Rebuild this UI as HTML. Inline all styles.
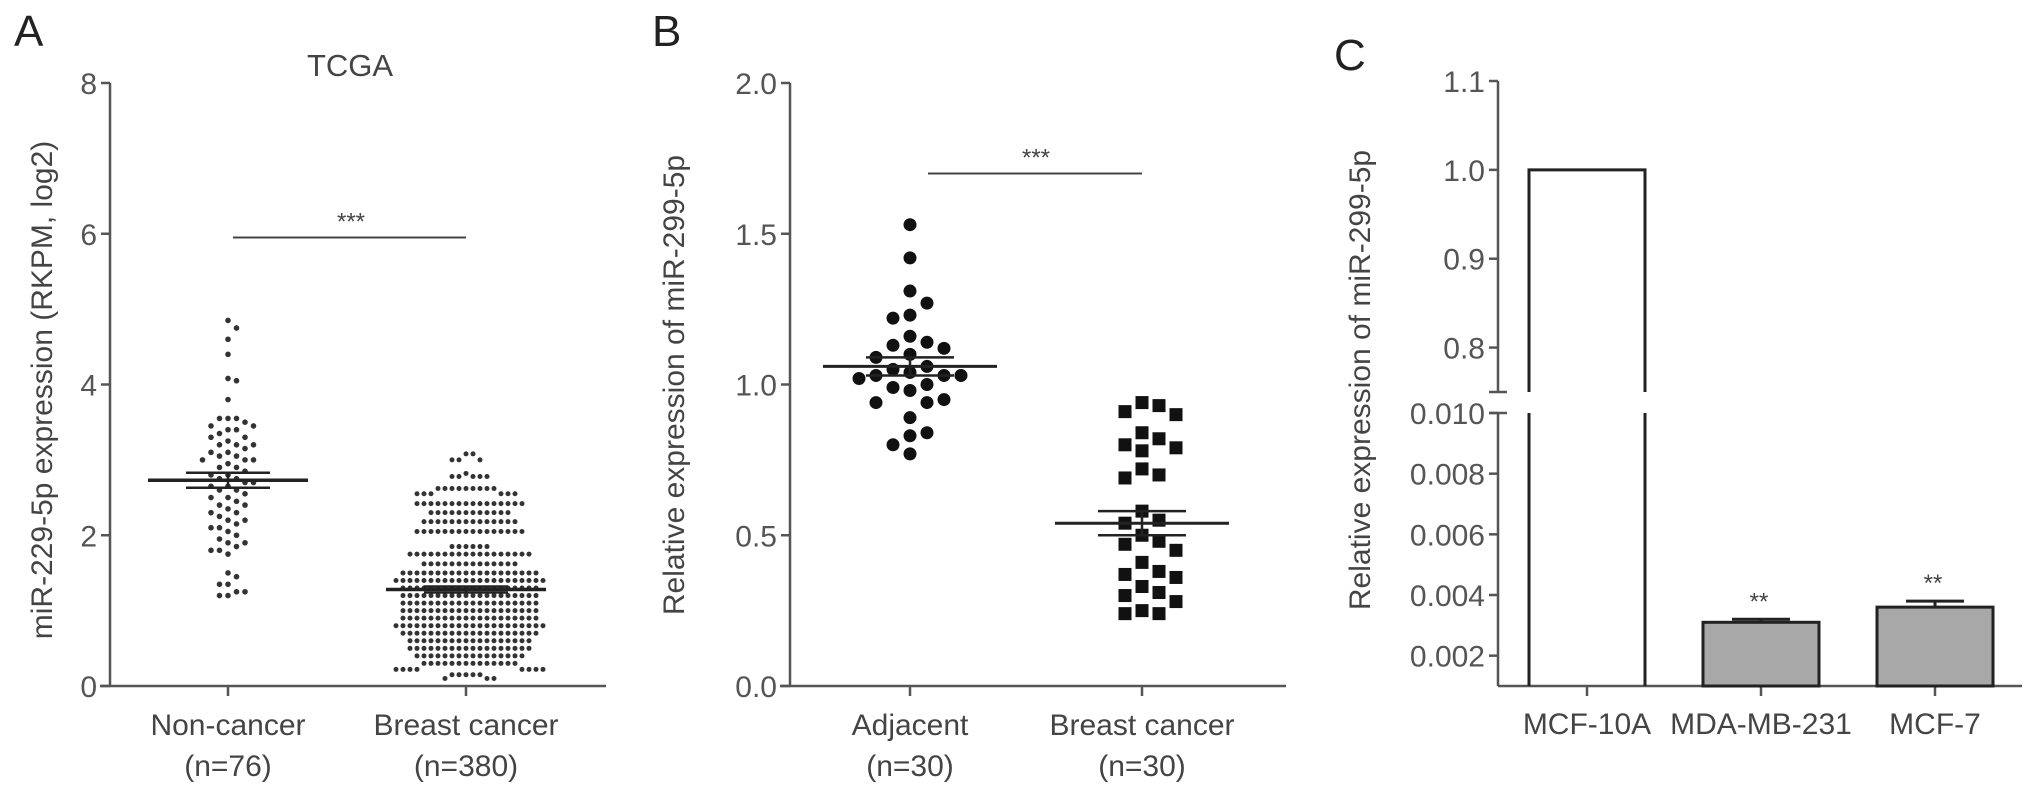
<!DOCTYPE html>
<html><head><meta charset="utf-8"><style>
html,body{margin:0;padding:0;background:#fff;}
svg{display:block;font-family:"Liberation Sans",Arial,sans-serif;}
</style></head><body>
<svg id="fig" width="2032" height="796" viewBox="0 0 2032 796" xmlns="http://www.w3.org/2000/svg"></svg>
<script>
// ---------- Panel A data ----------
const aCategories = ["Non-cancer", "Breast cancer"];
const aCounts = ["(n=76)", "(n=380)"];
const aTicks = [0, 2, 4, 6, 8];
const aNonCancer = [4.85,4.75,4.6,4.4,4.08,4.05,3.8,3.55,3.55,3.55,3.5,3.45,3.45,3.4,3.4,3.35,3.3,3.3,3.25,3.2,3.2,3.2,3.15,3.1,3.1,3.05,3.05,3.0,3.0,3.0,2.95,2.9,2.9,2.85,2.8,2.8,2.75,2.75,2.7,2.7,2.65,2.65,2.6,2.6,2.55,2.5,2.5,2.45,2.4,2.4,2.35,2.3,2.3,2.25,2.2,2.2,2.15,2.1,2.1,2.05,2.0,1.95,1.9,1.9,1.85,1.8,1.8,1.75,1.5,1.45,1.35,1.35,1.25,1.25,1.2,1.2];
const aBreastLevels = [3.08,3.0,2.82,2.78,2.62,2.55,2.42,2.3,2.18,2.05,1.85,1.75,1.62,1.5,1.4,1.3,1.2,1.1,1.0,0.9,0.8,0.7,0.6,0.5,0.4,0.3,0.22,0.15,0.1];
const aBreastCounts = [2,3,1,5,9,6,16,12,14,16,6,18,14,20,22,20,20,20,20,20,22,20,18,18,16,14,8,5,3];
const aMean = [2.73, 1.28];
const aSem = [0.10, 0.04];
// ---------- Panel B data ----------
const bCategories = ["Adjacent", "Breast cancer"];
const bCounts = ["(n=30)", "(n=30)"];
const bTicks = [0.0, 0.5, 1.0, 1.5, 2.0];
const bAdjacent = [1.53,1.42,1.31,1.27,1.23,1.22,1.16,1.14,1.13,1.12,1.10,1.09,1.06,1.05,1.04,1.03,1.03,1.03,1.02,1.00,0.99,0.98,0.95,0.94,0.94,0.89,0.84,0.83,0.80,0.77];
const bBreast = [0.94,0.93,0.91,0.90,0.84,0.82,0.80,0.79,0.78,0.72,0.70,0.69,0.58,0.55,0.54,0.50,0.48,0.47,0.45,0.41,0.38,0.37,0.36,0.33,0.31,0.30,0.28,0.25,0.24,0.24];
const bMean = [1.06, 0.54];
const bSem = [0.03, 0.04];
// ---------- Panel C data ----------
const cCategories = ["MCF-10A", "MDA-MB-231", "MCF-7"];
const cValues = [1.0, 0.0031, 0.0036];
const cErrors = [0, 0.0001, 0.0002];
const cStars = ["", "**", "**"];
const cUpperTicks = [0.8, 0.9, 1.0, 1.1];
const cLowerTicks = [0.002, 0.004, 0.006, 0.008, 0.010];
const cLowerTickLabels = ["0.002", "0.004", "0.006", "0.008", "0.010"];

const NS = "http://www.w3.org/2000/svg";
const svg = document.getElementById("fig");
function el(tag, attrs, parent) {
  const e = document.createElementNS(NS, tag);
  for (const k in attrs) e.setAttribute(k, attrs[k]);
  (parent || svg).appendChild(e);
  return e;
}
function txt(s, x, y, size, anchor, fill, parent) {
  const t = el("text", {x: x, y: y, "font-size": size, "text-anchor": anchor || "middle", fill: fill || "#444"}, parent);
  t.textContent = s;
  return t;
}
function group(name) {
  const g = el("g", {});
  
  
  return g;
}
const AX = "#555";

function beeswarm(vals, yfn, cx, d) {
  const sorted = vals.slice().sort((a, b) => b - a);
  const placed = [];
  for (const v of sorted) {
    const y = yfn(v);
    let k = 0, x = cx;
    while (true) {
      const off = k === 0 ? 0 : (k % 2 ? 1 : -1) * Math.ceil(k / 2) * d;
      x = cx + off;
      let ok = true;
      for (const p of placed) {
        const dx = p.x - x, dy = p.y - y;
        if (dx * dx + dy * dy < d * d * 0.98) { ok = false; break; }
      }
      if (ok) break;
      k++;
      if (k > 80) break;
    }
    placed.push({x: x, y: y, v: v});
  }
  return placed;
}

// ================= Panel A =================
(function () {
  const x0 = 110, xEnd = 606, y0 = 686, yTop = 83, vMax = 8;
  const yA = v => y0 - (v / vMax) * (y0 - yTop);
  const catX = [228, 466];
  const g = group("panel-a");
  const lab = txt("A", 14, 46, 44, "start", "#222", g);
  
  
  const title = txt("TCGA", 350, 76, 31, "middle", "#444", g);
  
  
  const yAxis = el("line", {x1: x0, y1: yTop, x2: x0, y2: y0, stroke: AX, "stroke-width": 2.5}, g);
  
  
  const xAxis = el("line", {x1: x0 - 10, y1: y0, x2: xEnd, y2: y0, stroke: AX, "stroke-width": 2.5}, g);
  
  
  aTicks.forEach(t => {
    const y = yA(t);
    const tk = el("line", {x1: x0 - 9, y1: y, x2: x0, y2: y, stroke: AX, "stroke-width": 2.5}, g);
    
    
    const tl = txt(String(t), x0 - 13, y + 11, 30, "end", "#555", g);
    
    
  });
  const yt = txt("miR-229-5p expression (RKPM, log2)", 0, 0, 30, "middle", "#444", g);
  yt.setAttribute("transform", "translate(52,390) rotate(-90)");
  
  
  catX.forEach((cx, i) => {
    const tk = el("line", {x1: cx, y1: y0, x2: cx, y2: y0 + 10, stroke: AX, "stroke-width": 2.5}, g);
    
    
    const l1 = txt(aCategories[i], cx, 735, 30, "middle", "#444", g);
    
    
    const l2 = txt(aCounts[i], cx, 776, 30, "middle", "#444", g);
    
    
  });
  // dots
  const pts1 = beeswarm(aNonCancer, yA, catX[0], 8.5);
  pts1.forEach(p => {
    const c = el("circle", {cx: p.x, cy: p.y, r: 2.8, fill: "#333"}, g);
    
    
  });
  const breastVals = [];
  aBreastLevels.forEach((lv, i) => { for (let k = 0; k < aBreastCounts[i]; k++) breastVals.push(lv); });
  const pts2 = beeswarm(breastVals, yA, catX[1], 7);
  pts2.forEach(p => {
    const c = el("circle", {cx: p.x, cy: p.y, r: 2.5, fill: "#333"}, g);
    
    
  });
  // mean & sem
  catX.forEach((cx, i) => {
    const m = el("line", {x1: cx - 80, y1: yA(aMean[i]), x2: cx + 80, y2: yA(aMean[i]), stroke: "#222", "stroke-width": 3.5}, g);
    
    
    [aMean[i] - aSem[i], aMean[i] + aSem[i]].forEach(v => {
      const s = el("line", {x1: cx - 42, y1: yA(v), x2: cx + 42, y2: yA(v), stroke: "#222", "stroke-width": 2.5}, g);
      
      
    });
    const vl = el("line", {x1: cx, y1: yA(aMean[i] - aSem[i]), x2: cx, y2: yA(aMean[i] + aSem[i]), stroke: "#222", "stroke-width": 2.5}, g);
    
    
  });
  const sig = el("line", {x1: catX[0] + 5, y1: yA(5.95), x2: catX[1], y2: yA(5.95), stroke: "#444", "stroke-width": 2}, g);
  
  
  const st = txt("***", (catX[0] + catX[1]) / 2 + 4, yA(5.95) - 8, 24, "middle", "#444", g);
  
  
})();

// ================= Panel B =================
(function () {
  const x0 = 790, xEnd = 1286, y0 = 686, yTop = 83, vMax = 2;
  const yB = v => y0 - (v / vMax) * (y0 - yTop);
  const catX = [910, 1142];
  const g = group("panel-b");
  const lab = txt("B", 652, 46, 44, "start", "#222", g);
  
  
  const yAxis = el("line", {x1: x0, y1: yTop, x2: x0, y2: y0, stroke: AX, "stroke-width": 2.5}, g);
  
  
  const xAxis = el("line", {x1: x0 - 10, y1: y0, x2: xEnd, y2: y0, stroke: AX, "stroke-width": 2.5}, g);
  
  
  bTicks.forEach(t => {
    const y = yB(t);
    const tk = el("line", {x1: x0 - 9, y1: y, x2: x0, y2: y, stroke: AX, "stroke-width": 2.5}, g);
    
    
    const tl = txt(t.toFixed(1), x0 - 13, y + 11, 30, "end", "#555", g);
    
    
  });
  const yt = txt("Relative expression of miR-299-5p", 0, 0, 30, "middle", "#444", g);
  yt.setAttribute("transform", "translate(684,385) rotate(-90)");
  
  
  catX.forEach((cx, i) => {
    const tk = el("line", {x1: cx, y1: y0, x2: cx, y2: y0 + 10, stroke: AX, "stroke-width": 2.5}, g);
    
    
    const l1 = txt(bCategories[i], cx, 735, 30, "middle", "#444", g);
    
    
    const l2 = txt(bCounts[i], cx, 776, 30, "middle", "#444", g);
    
    
  });
  beeswarm(bAdjacent, yB, catX[0], 17).forEach(p => {
    const c = el("circle", {cx: p.x, cy: p.y, r: 6.5, fill: "#111"}, g);
    
    
  });
  beeswarm(bBreast, yB, catX[1], 17).forEach(p => {
    const r = el("rect", {x: p.x - 6.5, y: p.y - 6.5, width: 13, height: 13, fill: "#111"}, g);
    
    
  });
  catX.forEach((cx, i) => {
    const m = el("line", {x1: cx - 87, y1: yB(bMean[i]), x2: cx + 87, y2: yB(bMean[i]), stroke: "#222", "stroke-width": 3}, g);
    
    
    [bMean[i] - bSem[i], bMean[i] + bSem[i]].forEach(v => {
      const s = el("line", {x1: cx - 44, y1: yB(v), x2: cx + 44, y2: yB(v), stroke: "#222", "stroke-width": 2.5}, g);
      
      
    });
    const vl = el("line", {x1: cx, y1: yB(bMean[i] - bSem[i]), x2: cx, y2: yB(bMean[i] + bSem[i]), stroke: "#222", "stroke-width": 2.5}, g);
    
    
  });
  const sig = el("line", {x1: catX[0] + 18, y1: yB(1.70), x2: catX[1], y2: yB(1.70), stroke: "#444", "stroke-width": 2}, g);
  
  
  const st = txt("***", (catX[0] + catX[1]) / 2 + 10, yB(1.70) - 8, 24, "middle", "#444", g);
  
  
})();

// ================= Panel C =================
(function () {
  const x0 = 1498, xEnd = 2022, y0 = 686;
  const loTop = 413, loMin = 0.001, loMax = 0.010;
  const upBot = 392, upTop = 81, upMin = 0.75, upMax = 1.1;
  const yLo = v => y0 - (v - loMin) / (loMax - loMin) * (y0 - loTop);
  const yUp = v => upBot - (v - upMin) / (upMax - upMin) * (upBot - upTop);
  const catX = [1587, 1761, 1935];
  const bw = 116;
  const g = group("panel-c");
  const lab = txt("C", 1334, 70, 44, "start", "#222", g);
  
  
  const ya1 = el("line", {x1: x0, y1: upTop, x2: x0, y2: upBot, stroke: AX, "stroke-width": 2.5}, g);
  
  
  const ya2 = el("line", {x1: x0, y1: loTop, x2: x0, y2: y0, stroke: AX, "stroke-width": 2.5}, g);
  
  
  [upBot, loTop].forEach(y => {
    const b = el("line", {x1: x0 - 9, y1: y, x2: x0 + 9, y2: y, stroke: AX, "stroke-width": 2.5}, g);
    
    
  });
  const xAxis = el("line", {x1: x0, y1: y0, x2: xEnd, y2: y0, stroke: AX, "stroke-width": 2.5}, g);
  
  
  cUpperTicks.forEach(t => {
    const y = yUp(t);
    const tk = el("line", {x1: x0 - 9, y1: y, x2: x0, y2: y, stroke: AX, "stroke-width": 2.5}, g);
    
    
    const tl = txt(t.toFixed(1), x0 - 13, y + 11, 30, "end", "#555", g);
    
    
  });
  cLowerTicks.forEach((t, i) => {
    const y = yLo(t);
    const tk = el("line", {x1: x0 - 9, y1: y, x2: x0, y2: y, stroke: AX, "stroke-width": 2.5}, g);
    
    
    const tl = txt(cLowerTickLabels[i], x0 - 13, y + 11, 30, "end", "#555", g);
    
    
  });
  const yt = txt("Relative expression of miR-299-5p", 0, 0, 30, "middle", "#444", g);
  yt.setAttribute("transform", "translate(1370,380) rotate(-90)");
  
  
  catX.forEach((cx, i) => {
    const tk = el("line", {x1: cx, y1: y0, x2: cx, y2: y0 + 10, stroke: AX, "stroke-width": 2.5}, g);
    
    
    const l = txt(cCategories[i], cx, 734, 30, "middle", "#444", g);
    
    
    const v = cValues[i];
    if (v > loMax) {
      // broken bar
      const lo = el("path", {d: `M${cx - bw / 2},${y0} V${loTop} M${cx + bw / 2},${y0} V${loTop}`, stroke: "#222", "stroke-width": 3, fill: "none"}, g);
      
      
      const up = el("path", {d: `M${cx - bw / 2},${upBot} V${yUp(v)} H${cx + bw / 2} V${upBot}`, stroke: "#222", "stroke-width": 3, fill: "#fff"}, g);
      
      
    } else {
      const top = yLo(v);
      const eTop = yLo(v + cErrors[i]);
      const eb = el("line", {x1: cx, y1: top, x2: cx, y2: eTop, stroke: "#222", "stroke-width": 3}, g);
      
      
      const ec = el("line", {x1: cx - 29, y1: eTop, x2: cx + 29, y2: eTop, stroke: "#222", "stroke-width": 3}, g);
      
      
      const r = el("rect", {x: cx - bw / 2, y: top, width: bw, height: y0 - top, fill: "#a8a8a8", stroke: "#222", "stroke-width": 3}, g);
      
      
      const s = txt(cStars[i], cx - 2, eTop - 10, 24, "middle", "#444", g);
      
      
    }
  });
})();
</script>
</body></html>
